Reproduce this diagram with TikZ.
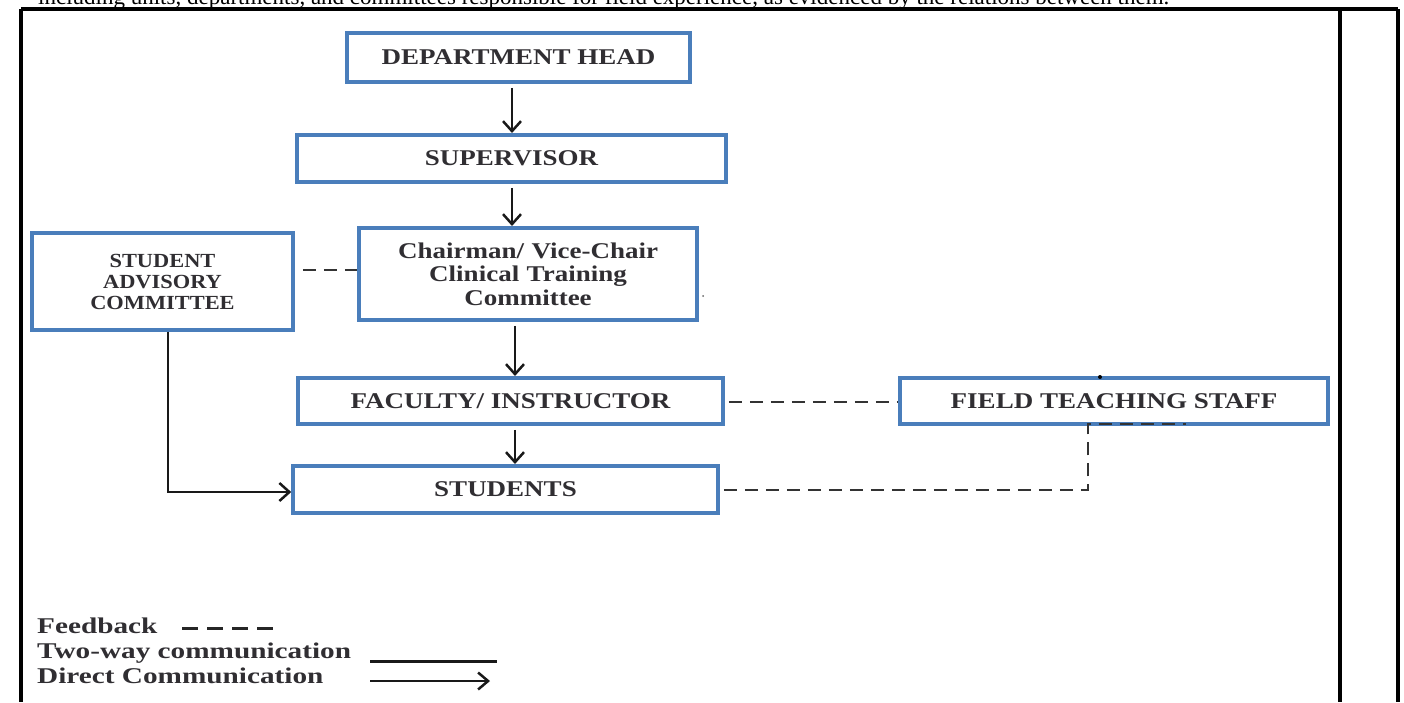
\documentclass[tikz,border=0pt]{standalone}
\usepackage{fontspec}
\setmainfont{Liberation Serif}
\newfontfamily\boxfont[FakeStretch=1.2]{Liberation Serif}
\newfontfamily\sacfont[FakeStretch=1.12]{Liberation Serif}
\newfontfamily\legfont[FakeStretch=1.3]{Liberation Serif}
\usetikzlibrary{arrows.meta}
\definecolor{boxblue}{RGB}{74,126,187}
\definecolor{txt}{RGB}{48,46,50}
\tikzset{
  box/.style={draw=boxblue, line width=3.5pt, fill=white, align=center, text=txt,
    font=\boxfont\fontsize{22.5}{24}\selectfont\bfseries, inner sep=0pt},
  conn/.style={line width=2.5pt, draw=black!90},
  arr/.style={conn, -{Straight Barb[length=10pt,width=18pt,line width=2.5pt]}},
  fb/.style={line width=2.5pt, draw=black!80, dash pattern=on 13pt off 8pt},
  frame/.style={line width=4pt, draw=black},
  legtext/.style={anchor=base west, text=txt, font=\legfont\fontsize{22.5}{24}\selectfont\bfseries, inner sep=0pt}
}
\begin{document}
\begin{tikzpicture}[x=1pt,y=-1pt]
\useasboundingbox (0,0) rectangle (1404,702);
\clip (0,0) rectangle (1404,702);
% cut-off caption line at the very top (clipped as in the reference)
\node[anchor=base west, inner sep=0pt, text=black, font=\fontsize{23}{25}\selectfont] (cap) at (38,4)
  {including units, departments, and committees responsible for field experience, as evidenced by the relations between them.};
% table frame
\draw[frame] (21,9) -- (1398,9);
\draw[frame] (21,9) -- (21,702);
\draw[frame] (1340,9) -- (1340,702);
\draw[frame] (1398,9) -- (1398,702);
% boxes
\node[box, minimum width=343pt, minimum height=49pt] (dh) at (518.5,57.5) {DEPARTMENT HEAD};
\node[box, minimum width=429pt, minimum height=47pt] (sup) at (511.5,158.5) {SUPERVISOR};
\node[box, minimum width=338pt, minimum height=92pt, text width=330pt] (ch) at (528,274)
  {\baselineskip=23pt Chairman/ Vice-Chair\\Clinical Training\\Committee};
\node[box, font=\sacfont\fontsize{20}{21}\selectfont\bfseries, minimum width=261pt, minimum height=97pt, text width=250pt] (sac) at (162.5,281.5)
  {\baselineskip=21pt STUDENT\\ADVISORY\\COMMITTEE};
\node[box, minimum width=425pt, minimum height=46pt] (fac) at (510.5,401) {FACULTY/ INSTRUCTOR};
\node[box, minimum width=428pt, minimum height=46pt] (fts) at (1114,401) {FIELD TEACHING STAFF};
\node[box, minimum width=425pt, minimum height=47pt] (stu) at (505.5,489.5) {STUDENTS};
% vertical arrows
\draw[arr] (dh.south -| 512,0) ++(0,4) -- (512,133);
\draw[arr] (sup.south -| 512,0) ++(0,4) -- (512,226);
\draw[arr] (ch.south -| 515,0) ++(0,4) -- (515,376);
\draw[arr] (fac.south -| 515,0) ++(0,4) -- (515,464);
% student advisory committee to students
\draw[arr] (sac.south -| 168,0) -- (168,492) -- (stu.west |- 0,492);
% feedback lines
\draw[fb] (sac.east |- 0,270) ++(8,0) -- (ch.west |- 0,270);
\draw[fb] (fac.east |- 0,402) ++(4,0) -- (fts.west |- 0,402);
\coordinate (corner) at (1088,490);
\draw[fb] (stu.east |- 0,490) ++(4,0) -- (corner) -- (1088,424) -- (1186,424);
% stray marks
\fill[black] (1100,377) circle (2pt);
\fill[black!60] (703,296) circle (1pt);
% legend
\node[legtext] (l1) at (37,633) {Feedback};
\node[legtext] (l2) at (37,658) {Two-way communication};
\node[legtext] (l3) at (37,683) {Direct Communication};
\coordinate (f1) at (182,628);
\coordinate (f2) at (274,628);
\draw[line width=3pt, draw=black!85, dash pattern=on 16pt off 9pt] (f1) -- (f2);
\coordinate (t1) at (370,661);
\coordinate (t2) at (497,661);
\draw[line width=3pt, draw=black!90] (t1) -- (t2);
\coordinate (d1) at (370,681);
\coordinate (d2) at (490,681);
\draw[conn, -{Straight Barb[length=10pt,width=17pt,line width=2.5pt]}] (d1) -- (d2);
\end{tikzpicture}
\end{document}
